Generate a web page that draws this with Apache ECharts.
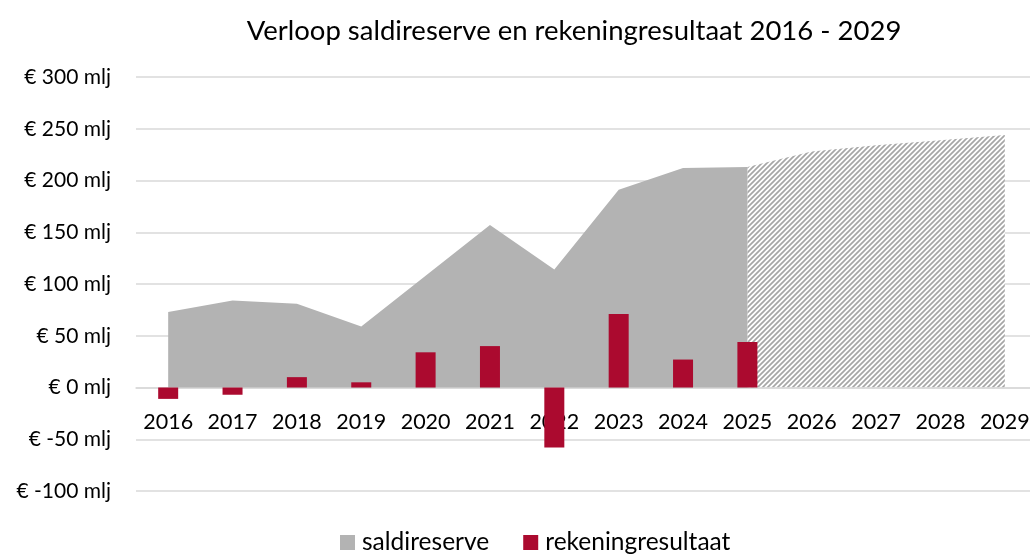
<!DOCTYPE html>
<html>
<head>
<meta charset="utf-8">
<script src="https://cdn.jsdelivr.net/npm/echarts@6/dist/echarts.min.js"></script>
<style>
html,body{margin:0;padding:0;background:#fff;}
#chart{width:1030px;height:556px;}
</style>
</head>
<body>
<div id="chart"></div>
<script>
//jaren en waarden (in miljoenen euro)
var jaren = ['2016','2017','2018','2019','2020','2021','2022','2023','2024','2025','2026','2027','2028','2029'];
var saldireserve = [73, 84, 81, 59, 108, 157, 114, 191, 212, 213, null, null, null, null];
var saldireservePrognose = [null, null, null, null, null, null, null, null, null, 213, 228, 234, 239, 244];
var rekeningresultaat = [-11, -7, 10, 5, 34, 40, -58, 71, 27, 44, null, null, null, null];

//arcering voor de prognosejaren
function arcering(){
	var c = document.createElement('canvas');
	c.width = 5; c.height = 5;
	var ctx = c.getContext('2d');
	ctx.fillStyle = '#ffffff';
	ctx.fillRect(0, 0, 5, 5);
	ctx.strokeStyle = '#a6a6a6';
	ctx.lineWidth = 1.7;
	ctx.beginPath();
	ctx.moveTo(-1, 6); ctx.lineTo(6, -1);
	ctx.moveTo(-1, 1); ctx.lineTo(1, -1);
	ctx.moveTo(4, 6); ctx.lineTo(6, 4);
	ctx.stroke();
	return c;
}

var font = 'Lato, "Noto Sans", sans-serif';
var chart = echarts.init(document.getElementById('chart'));
var option = {
	animation: false,
	title: {
		text: 'Verloop saldireserve en rekeningresultaat 2016 - 2029',
		left: 569,
		textAlign: 'center',
		top: 12,
		textStyle: { fontFamily: font, fontSize: 27.5, fontWeight: 'normal', color: '#000' }
	},
	legend: {
		data: ['saldireserve', 'rekeningresultaat'],
		top: 525,
		left: 335,
		itemWidth: 15,
		itemHeight: 15,
		itemGap: 34,
		icon: 'rect',
		textStyle: { fontFamily: font, fontSize: 24.5, color: '#000', padding: [0, 0, 0, 2] }
	},
	grid: { left: 136, width: 901, top: 77, height: 414, containLabel: false, outerBoundsMode: 'none' },
	xAxis: {
		type: 'category',
		data: jaren,
		boundaryGap: true,
		offset: -103.5,
		axisLine: { show: true, onZero: false, lineStyle: { color: '#d9d9d9', width: 1.5 } },
		axisTick: { show: false },
		axisLabel: { interval: 0, margin: 24, fontFamily: font, fontSize: 21.5, color: '#000' },
		z: 1
	},
	yAxis: {
		type: 'value',
		min: -100,
		max: 300,
		interval: 50,
		axisLine: { show: false },
		axisTick: { show: false },
		splitLine: { lineStyle: { color: '#d9d9d9', width: 1.5 } },
		axisLabel: {
			margin: 25,
			fontFamily: font,
			fontSize: 21,
			color: '#000',
			formatter: function(v){ return '€ ' + v + ' mlj'; }
		}
	},
	series: [
		{
			name: 'saldireserve',
			type: 'line',
			data: saldireserve,
			symbol: 'none',
			lineStyle: { width: 0 },
			itemStyle: { color: '#b3b3b3' },
			areaStyle: { color: '#b3b3b3', opacity: 1 },
			z: 2
		},
		{
			name: 'saldireserve prognose',
			type: 'line',
			data: saldireservePrognose,
			symbol: 'none',
			lineStyle: { width: 0 },
			areaStyle: { color: { image: arcering(), repeat: 'repeat' }, opacity: 1 },
			z: 1
		},
		{
			name: 'rekeningresultaat',
			type: 'bar',
			data: rekeningresultaat,
			barWidth: 20,
			itemStyle: { color: '#ab0a2f' },
			z: 3
		}
	]
};
chart.setOption(option);
</script>
</body>
</html>
